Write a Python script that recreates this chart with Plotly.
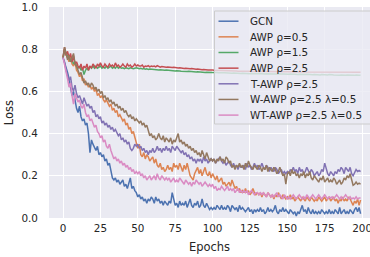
import plotly.graph_objects as go

epochs = list(range(200))

gcn = [
0.76,0.74,0.72,0.69,0.66,0.62,0.58,0.60,0.55,0.52,
0.50,0.53,0.48,0.46,0.47,0.44,0.45,0.40,0.31,0.37,
0.35,0.33,0.32,0.34,0.30,0.31,0.29,0.30,0.27,0.28,
0.25,0.26,0.22,0.19,0.18,0.19,0.17,0.18,0.16,0.17,
0.18,0.15,0.16,0.14,0.16,0.19,0.14,0.15,0.13,0.12,
0.10,0.11,0.09,0.10,0.08,0.09,0.07,0.09,0.08,0.10,
0.09,0.07,0.10,0.08,0.09,0.07,0.08,0.06,0.08,0.07,
0.06,0.08,0.07,0.12,0.09,0.06,0.07,0.05,0.08,0.06,
0.07,0.06,0.08,0.05,0.07,0.09,0.06,0.05,0.07,0.06,
0.08,0.05,0.06,0.09,0.06,0.05,0.07,0.05,0.04,0.05,
0.04,0.05,0.04,0.06,0.05,0.04,0.06,0.04,0.05,0.04,
0.06,0.05,0.03,0.06,0.05,0.04,0.05,0.03,0.06,0.04,
0.05,0.04,0.03,0.04,0.05,0.03,0.04,0.02,0.04,0.03,
0.04,0.03,0.05,0.03,0.04,0.02,0.03,0.05,0.03,0.04,
0.03,0.04,0.06,0.03,0.02,0.04,0.03,0.05,0.03,0.04,
0.03,0.02,0.04,0.03,0.02,0.03,0.01,0.03,0.02,0.04,
0.06,0.03,0.04,0.02,0.05,0.03,0.02,0.04,0.02,0.03,
0.02,0.03,0.02,0.04,0.03,0.02,0.03,0.02,0.04,0.02,
0.03,0.02,0.04,0.03,0.02,0.05,0.02,0.03,0.04,0.02,
0.03,0.02,0.04,0.03,0.02,0.04,0.05,0.03,0.05,0.02]

awp_05 = [
0.76,0.80,0.78,0.76,0.74,0.77,0.73,0.72,0.74,0.70,
0.69,0.67,0.68,0.65,0.66,0.63,0.64,0.62,0.63,0.61,
0.62,0.60,0.61,0.58,0.59,0.57,0.58,0.56,0.55,0.56,
0.54,0.53,0.54,0.51,0.52,0.50,0.51,0.48,0.49,0.47,
0.46,0.47,0.44,0.45,0.42,0.43,0.40,0.41,0.38,0.36,
0.33,0.35,0.30,0.29,0.31,0.28,0.30,0.29,0.27,0.28,
0.29,0.26,0.28,0.25,0.24,0.26,0.23,0.24,0.22,0.23,
0.25,0.23,0.24,0.22,0.26,0.24,0.25,0.23,0.26,0.24,
0.22,0.25,0.23,0.26,0.22,0.20,0.19,0.18,0.21,0.23,
0.24,0.21,0.23,0.20,0.22,0.24,0.21,0.20,0.22,0.19,
0.21,0.19,0.18,0.20,0.17,0.18,0.19,0.16,0.17,0.15,
0.16,0.17,0.15,0.18,0.16,0.14,0.15,0.13,0.14,0.12,
0.13,0.12,0.14,0.12,0.13,0.11,0.12,0.14,0.12,0.11,
0.12,0.11,0.12,0.10,0.12,0.11,0.10,0.12,0.11,0.10,
0.11,0.09,0.11,0.10,0.12,0.10,0.09,0.11,0.10,0.09,
0.10,0.09,0.11,0.09,0.10,0.08,0.09,0.10,0.09,0.08,
0.10,0.09,0.08,0.10,0.09,0.08,0.10,0.09,0.08,0.09,
0.08,0.10,0.09,0.08,0.09,0.10,0.08,0.09,0.10,0.08,
0.09,0.10,0.08,0.09,0.07,0.09,0.08,0.10,0.08,0.09,
0.08,0.10,0.09,0.07,0.06,0.08,0.07,0.09,0.06,0.085]

awp_15 = [
0.76,0.79,0.78,0.77,0.76,0.74,0.75,0.73,0.74,0.72,
0.71,0.72,0.70,0.71,0.68,0.70,0.71,0.70,0.72,0.71,
0.72,0.71,0.72,0.71,0.715,0.72,0.71,0.715,0.71,0.72,
0.71,0.715,0.72,0.71,0.715,0.71,0.72,0.71,0.715,0.71,
0.712,0.708,0.712,0.71,0.708,0.712,0.71,0.708,0.71,0.712,
0.71,0.708,0.71,0.706,0.708,0.705,0.707,0.704,0.706,0.705,
0.704,0.705,0.703,0.704,0.702,0.703,0.701,0.702,0.70,0.701,
0.70,0.699,0.70,0.698,0.699,0.697,0.698,0.696,0.697,0.696,
0.695,0.696,0.695,0.694,0.695,0.694,0.693,0.694,0.693,0.692,
0.693,0.692,0.691,0.692,0.691,0.690,0.691,0.690,0.690,0.689,
0.689,0.690,0.688,0.689,0.688,0.689,0.687,0.688,0.688,0.687,
0.688,0.687,0.687,0.686,0.687,0.686,0.687,0.686,0.686,0.685,
0.686,0.685,0.686,0.685,0.685,0.684,0.685,0.684,0.685,0.684,
0.684,0.685,0.684,0.683,0.684,0.683,0.684,0.683,0.683,0.684,
0.683,0.682,0.683,0.682,0.683,0.682,0.682,0.683,0.682,0.681,
0.682,0.681,0.682,0.681,0.681,0.682,0.681,0.680,0.681,0.680,
0.681,0.680,0.680,0.681,0.680,0.679,0.680,0.679,0.680,0.679,
0.680,0.679,0.678,0.680,0.679,0.678,0.679,0.678,0.680,0.678,
0.679,0.678,0.677,0.679,0.678,0.677,0.678,0.677,0.679,0.677,
0.678,0.677,0.676,0.678,0.677,0.676,0.678,0.676,0.677,0.676]

awp_25 = [
0.76,0.81,0.77,0.79,0.76,0.78,0.74,0.77,0.73,0.74,
0.72,0.71,0.73,0.70,0.72,0.71,0.73,0.70,0.72,0.71,
0.73,0.72,0.71,0.73,0.72,0.735,0.72,0.715,0.73,0.72,
0.715,0.73,0.72,0.725,0.715,0.735,0.72,0.725,0.715,0.72,
0.73,0.72,0.715,0.73,0.72,0.725,0.715,0.72,0.73,0.72,
0.725,0.72,0.72,0.725,0.715,0.72,0.718,0.722,0.716,0.72,
0.718,0.72,0.716,0.722,0.718,0.715,0.718,0.716,0.717,0.715,
0.716,0.714,0.715,0.713,0.714,0.712,0.713,0.711,0.712,0.710,
0.711,0.709,0.710,0.708,0.709,0.707,0.708,0.706,0.707,0.705,
0.706,0.704,0.705,0.703,0.704,0.702,0.703,0.701,0.702,0.700,
0.701,0.700,0.700,0.699,0.700,0.699,0.699,0.698,0.699,0.698,
0.698,0.698,0.697,0.698,0.697,0.697,0.697,0.696,0.697,0.696,
0.696,0.696,0.696,0.695,0.696,0.695,0.695,0.695,0.695,0.695,
0.695,0.694,0.695,0.694,0.694,0.694,0.694,0.694,0.694,0.694,
0.694,0.693,0.694,0.693,0.693,0.693,0.694,0.693,0.693,0.693,
0.693,0.693,0.693,0.693,0.692,0.693,0.693,0.692,0.693,0.692,
0.692,0.693,0.692,0.692,0.692,0.692,0.693,0.692,0.692,0.692,
0.692,0.692,0.692,0.691,0.692,0.692,0.692,0.691,0.692,0.692,
0.692,0.691,0.692,0.692,0.691,0.692,0.691,0.692,0.691,0.692,
0.691,0.692,0.691,0.691,0.692,0.691,0.691,0.692,0.691,0.691]

t_awp = [
0.76,0.74,0.70,0.68,0.65,0.67,0.62,0.60,0.63,0.59,
0.57,0.58,0.56,0.54,0.57,0.55,0.53,0.54,0.52,0.53,
0.50,0.51,0.48,0.49,0.47,0.48,0.45,0.46,0.44,0.45,
0.43,0.44,0.42,0.43,0.41,0.42,0.40,0.39,0.40,0.37,
0.38,0.36,0.37,0.35,0.36,0.33,0.32,0.33,0.35,0.34,
0.35,0.33,0.34,0.32,0.33,0.31,0.32,0.30,0.32,0.31,
0.33,0.31,0.32,0.34,0.32,0.33,0.31,0.33,0.32,0.34,
0.32,0.33,0.31,0.34,0.33,0.32,0.34,0.33,0.32,0.31,
0.32,0.30,0.31,0.29,0.30,0.28,0.29,0.27,0.28,0.26,
0.28,0.27,0.28,0.26,0.29,0.27,0.28,0.26,0.27,0.28,
0.27,0.28,0.26,0.27,0.28,0.29,0.27,0.26,0.27,0.25,
0.26,0.27,0.25,0.24,0.26,0.24,0.25,0.23,0.25,0.24,
0.24,0.25,0.23,0.26,0.24,0.25,0.23,0.24,0.26,0.24,
0.25,0.23,0.24,0.26,0.24,0.23,0.25,0.24,0.22,0.24,
0.23,0.22,0.24,0.23,0.21,0.22,0.23,0.21,0.22,0.21,
0.22,0.21,0.23,0.22,0.24,0.22,0.23,0.21,0.24,0.22,
0.23,0.21,0.22,0.24,0.22,0.21,0.23,0.22,0.20,0.21,
0.22,0.20,0.21,0.23,0.22,0.26,0.23,0.21,0.20,0.22,
0.21,0.20,0.22,0.21,0.23,0.22,0.24,0.23,0.21,0.24,
0.23,0.22,0.24,0.21,0.20,0.22,0.23,0.22,0.225,0.22]

w_awp = [
0.76,0.81,0.78,0.75,0.77,0.74,0.76,0.78,0.73,0.72,
0.70,0.68,0.69,0.66,0.64,0.65,0.63,0.64,0.62,0.64,
0.63,0.61,0.62,0.60,0.61,0.59,0.60,0.57,0.58,0.56,
0.57,0.55,0.56,0.54,0.55,0.53,0.54,0.52,0.53,0.51,
0.52,0.50,0.51,0.49,0.48,0.49,0.47,0.48,0.46,0.47,
0.46,0.45,0.46,0.44,0.45,0.43,0.44,0.41,0.39,0.40,
0.38,0.39,0.37,0.38,0.40,0.38,0.37,0.39,0.36,0.38,
0.37,0.36,0.38,0.35,0.37,0.36,0.38,0.40,0.36,0.37,
0.35,0.36,0.34,0.35,0.33,0.34,0.32,0.33,0.31,0.32,
0.30,0.31,0.29,0.32,0.30,0.28,0.31,0.29,0.27,0.28,
0.27,0.28,0.26,0.28,0.27,0.29,0.27,0.28,0.26,0.29,
0.28,0.26,0.27,0.24,0.25,0.23,0.25,0.24,0.26,0.24,
0.25,0.23,0.26,0.24,0.27,0.25,0.24,0.23,0.25,0.24,
0.23,0.25,0.24,0.22,0.24,0.23,0.25,0.22,0.24,0.23,
0.22,0.24,0.23,0.21,0.22,0.24,0.22,0.20,0.21,0.16,
0.21,0.22,0.20,0.23,0.21,0.22,0.20,0.21,0.19,0.21,
0.20,0.22,0.19,0.21,0.20,0.22,0.19,0.18,0.20,0.19,
0.18,0.17,0.19,0.18,0.20,0.17,0.18,0.19,0.17,0.18,
0.17,0.19,0.18,0.16,0.17,0.18,0.16,0.17,0.19,0.18,
0.20,0.19,0.21,0.18,0.155,0.16,0.17,0.16,0.165,0.16]

wt_awp = [
0.76,0.73,0.70,0.66,0.62,0.64,0.58,0.54,0.59,0.57,
0.55,0.56,0.53,0.52,0.54,0.50,0.48,0.49,0.46,0.47,
0.45,0.43,0.44,0.41,0.40,0.38,0.39,0.36,0.37,0.34,
0.33,0.35,0.32,0.30,0.28,0.29,0.27,0.28,0.26,0.27,
0.25,0.26,0.24,0.25,0.23,0.24,0.22,0.23,0.21,0.22,
0.21,0.22,0.20,0.21,0.19,0.20,0.18,0.19,0.20,0.18,
0.19,0.20,0.18,0.21,0.19,0.18,0.20,0.19,0.18,0.19,
0.18,0.19,0.17,0.18,0.19,0.17,0.18,0.17,0.19,0.18,
0.17,0.16,0.18,0.17,0.16,0.17,0.15,0.17,0.16,0.18,
0.17,0.16,0.17,0.15,0.16,0.17,0.16,0.15,0.16,0.15,
0.16,0.14,0.15,0.13,0.14,0.135,0.15,0.14,0.13,0.14,
0.15,0.13,0.14,0.13,0.14,0.12,0.13,0.14,0.12,0.13,
0.12,0.13,0.12,0.13,0.11,0.12,0.13,0.12,0.11,0.12,
0.12,0.11,0.12,0.11,0.12,0.11,0.10,0.12,0.11,0.10,
0.11,0.10,0.11,0.12,0.10,0.11,0.10,0.09,0.11,0.10,
0.09,0.10,0.09,0.10,0.11,0.10,0.09,0.10,0.11,0.10,
0.09,0.10,0.09,0.11,0.10,0.09,0.10,0.11,0.10,0.09,
0.10,0.11,0.10,0.09,0.10,0.11,0.10,0.09,0.10,0.095,
0.10,0.09,0.10,0.11,0.10,0.09,0.10,0.09,0.10,0.11,
0.10,0.09,0.10,0.09,0.095,0.09,0.10,0.09,0.095,0.095]

names = ["GCN", "AWP ρ=0.5", "AWP ρ=1.5", "AWP ρ=2.5", "T-AWP ρ=2.5",
         "W-AWP ρ=2.5 λ=0.5", "WT-AWP ρ=2.5 λ=0.5"]
series = [gcn, awp_05, awp_15, awp_25, t_awp, w_awp, wt_awp]
colors = ["#4C72B0", "#DD8452", "#55A868", "#C44E52", "#8172B3", "#937860", "#DA8BC3"]

x_ticks = [0, 25, 50, 75, 100, 125, 150, 175, 200]
y_ticks = [0.0, 0.2, 0.4, 0.6, 0.8, 1.0]

W, H = 370, 257
ML, MR, MT, MB = 49, 0, 7, 39
PW, PH = W - ML - MR, H - MT - MB

def fx(px):
    return (px - ML) / PW

def fy(py):
    return (H - MB - py) / PH

font = "DejaVu Sans"
txt = "#262626"

fig = go.Figure()
for name, ys, c in zip(names, series, colors):
    fig.add_trace(go.Scatter(x=epochs, y=ys, mode="lines", name=name,
                             line=dict(color=c, width=1.5), showlegend=False))

# legend box drawn on top of the lines (semi-transparent, like matplotlib)
shapes = [dict(type="rect", xref="paper", yref="paper",
               x0=fx(214.5), x1=fx(W + 5), y0=fy(124), y1=fy(11),
               line=dict(color="#CCCCCC", width=1),
               fillcolor="rgba(234,234,242,0.8)", layer="above")]
annotations = []
row0, step = 21.2, 15.65
for i, (name, c) in enumerate(zip(names, colors)):
    yc = row0 + i * step
    shapes.append(dict(type="line", xref="paper", yref="paper",
                       x0=fx(218.5), x1=fx(238.5), y0=fy(yc), y1=fy(yc),
                       line=dict(color=c, width=1.5), layer="above"))
    annotations.append(dict(text=name, xref="paper", yref="paper",
                            x=fx(248), y=fy(yc), xanchor="left", yanchor="middle",
                            showarrow=False, font=dict(family=font, size=10.4, color=txt)))

fig.update_layout(
    width=W, height=H,
    margin=dict(l=ML, r=MR, t=MT, b=MB, autoexpand=False),
    paper_bgcolor="white", plot_bgcolor="#EAEAF2",
    font=dict(family=font, size=10, color=txt),
    showlegend=False,
    shapes=shapes, annotations=annotations,
)
fig.update_xaxes(range=[-9.4, 205.3], tickvals=x_ticks, ticktext=[str(v) for v in x_ticks],
                 showgrid=True, gridcolor="white", gridwidth=1, zeroline=False,
                 automargin=False, ticklabeloverflow="allow",
                 ticks="outside", ticklen=1, tickcolor="rgba(0,0,0,0)",
                 tickfont=dict(size=10.4),
                 title=dict(text="Epochs", font=dict(size=11.5), standoff=9))
fig.update_yaxes(range=[0, 1], tickvals=y_ticks, ticktext=[f"{v:.1f}" for v in y_ticks],
                 showgrid=True, gridcolor="white", gridwidth=1, zeroline=False,
                 automargin=False, ticklabeloverflow="allow",
                 ticks="outside", ticklen=8, tickcolor="rgba(0,0,0,0)",
                 tickfont=dict(size=10.4),
                 title=dict(text="Loss", font=dict(size=11.5), standoff=5))

fig.write_html("out.html", config={"displayModeBar": False},
               post_script="document.body.style.margin='0';document.body.style.padding='0';")
